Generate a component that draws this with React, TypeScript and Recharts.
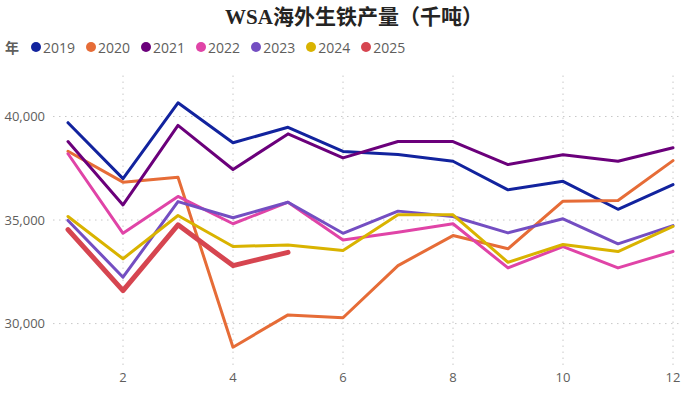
import { LineChart, Line, XAxis, YAxis, ReferenceLine } from 'recharts'

const MONTHS = [1, 2, 3, 4, 5, 6, 7, 8, 9, 10, 11, 12]

const Y2019 = [39700, 37000, 40660, 38730, 39480, 38310, 38160, 37840, 36460, 36870, 35520, 36710]
const Y2020 = [38320, 36830, 37070, 28860, 30420, 30280, 32800, 34250, 33610, 35910, 35940, 37870]
const Y2021 = [38790, 35730, 39570, 37440, 39160, 38000, 38790, 38790, 37680, 38150, 37840, 38490]
const Y2022 = [38200, 34360, 36140, 34820, 35860, 34040, 34410, 34820, 32690, 33720, 32690, 33480]
const Y2023 = [34980, 32240, 35890, 35110, 35860, 34360, 35430, 35170, 34380, 35060, 33850, 34730]
const Y2024 = [35170, 33130, 35220, 33720, 33800, 33530, 35250, 35250, 32960, 33820, 33480, 34690]
const Y2025 = [34540, 31590, 34770, 32800, 33440]

const SERIES = [
  { key: '2019', values: Y2019, color: '#12239E' },
  { key: '2020', values: Y2020, color: '#E66C37' },
  { key: '2021', values: Y2021, color: '#6B007B' },
  { key: '2022', values: Y2022, color: '#E044A7' },
  { key: '2023', values: Y2023, color: '#744EC2' },
  { key: '2024', values: Y2024, color: '#D9B300' },
  { key: '2025', values: Y2025, color: '#D64550' },
]

const X_TICKS = [2, 4, 6, 8, 10, 12]
const Y_TICKS = [30000, 35000, 40000]

const data = MONTHS.map((m, i) => {
  const row: Record<string, number | undefined> = { month: m }
  SERIES.forEach((s) => {
    row[s.key] = s.values[i]
  })
  return row
})

const FONT = '"Open Sans", "Noto Sans", sans-serif'
const GRID = { stroke: '#c8c8c8', strokeWidth: 1, strokeDasharray: '1.5 4.5' }

export default function App() {
  return (
    <div style={{ position: 'absolute', left: 0, top: 0, width: 700, height: 398, background: '#fff', fontFamily: FONT }}>
      <div
        style={{
          position: 'absolute',
          top: 2,
          left: 0,
          width: 700,
          textAlign: 'center',
          fontSize: 21,
          fontWeight: 'bold',
          color: '#252423',
          fontFamily: '"Liberation Serif", "Noto Sans CJK SC", serif',
          lineHeight: '26px',
          paddingLeft: 4,
        }}
      >
        <span>WSA</span>
        <span style={{ fontFamily: '"Noto Sans CJK SC", sans-serif' }}>海外生铁产量（千吨）</span>
      </div>

      <div style={{ position: 'absolute', top: 37, left: 5, display: 'flex', alignItems: 'center', height: 20 }}>
        <span style={{ fontWeight: 'bold', fontSize: 14, color: '#605E5C', fontFamily: '"Noto Sans CJK SC", sans-serif', marginRight: 12 }}>
          年
        </span>
        {SERIES.map((s) => (
          <div key={s.key} style={{ display: 'flex', alignItems: 'center', marginRight: 11 }}>
            <span style={{ width: 10, height: 10, borderRadius: 5, background: s.color, display: 'inline-block', marginRight: 2 }} />
            <span style={{ fontSize: 14, color: '#605E5C' }}>{s.key}</span>
          </div>
        ))}
      </div>

      <LineChart width={700} height={398} data={data} margin={{ top: 73, right: 18, bottom: 0, left: 0 }}>
        <XAxis
          dataKey="month"
          type="number"
          domain={[1, 12]}
          ticks={X_TICKS}
          padding={{ left: 15, right: 9 }}
          axisLine={false}
          tickLine={false}
          height={33}
          tick={{ fontSize: 13, fill: '#605E5C', fontFamily: FONT }}
        />
        <YAxis
          type="number"
          domain={[28000, 42100]}
          ticks={Y_TICKS}
          allowDataOverflow
          width={53}
          axisLine={false}
          tickLine={false}
          tickFormatter={(v: number) => v.toLocaleString('en-US')}
          tick={{ fontSize: 13, fill: '#605E5C', fontFamily: FONT }}
        />
        {Y_TICKS.map((t) => (
          <ReferenceLine key={'y' + t} y={t} {...GRID} />
        ))}
        {X_TICKS.map((t) => (
          <ReferenceLine key={'x' + t} x={t} {...GRID} />
        ))}
        {SERIES.map((s) => (
          <Line
            key={s.key}
            type="linear"
            dataKey={s.key}
            stroke={s.color}
            strokeWidth={s.key === '2025' ? 5 : 3}
            strokeLinejoin="round"
            strokeLinecap="round"
            dot={false}
            activeDot={false}
            isAnimationActive={false}
          />
        ))}
      </LineChart>
    </div>
  )
}
